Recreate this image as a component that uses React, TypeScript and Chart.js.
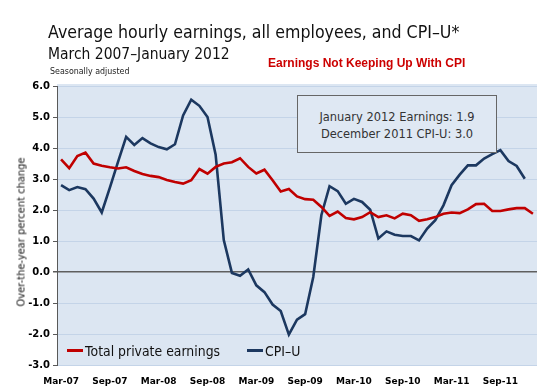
import React, { useEffect, useRef } from 'react';
import { Chart, registerables } from 'chart.js';

Chart.register(...registerables);

const months = [
  'Mar-07', 'Apr-07', 'May-07', 'Jun-07', 'Jul-07', 'Aug-07', 'Sep-07', 'Oct-07', 'Nov-07', 'Dec-07',
  'Jan-08', 'Feb-08', 'Mar-08', 'Apr-08', 'May-08', 'Jun-08', 'Jul-08', 'Aug-08', 'Sep-08', 'Oct-08', 'Nov-08', 'Dec-08',
  'Jan-09', 'Feb-09', 'Mar-09', 'Apr-09', 'May-09', 'Jun-09', 'Jul-09', 'Aug-09', 'Sep-09', 'Oct-09', 'Nov-09', 'Dec-09',
  'Jan-10', 'Feb-10', 'Mar-10', 'Apr-10', 'May-10', 'Jun-10', 'Jul-10', 'Aug-10', 'Sep-10', 'Oct-10', 'Nov-10', 'Dec-10',
  'Jan-11', 'Feb-11', 'Mar-11', 'Apr-11', 'May-11', 'Jun-11', 'Jul-11', 'Aug-11', 'Sep-11', 'Oct-11', 'Nov-11', 'Dec-11',
  'Jan-12',
];

const earnings = [
  3.63, 3.35, 3.74, 3.85, 3.5, 3.43, 3.38, 3.34, 3.38, 3.26,
  3.16, 3.1, 3.06, 2.97, 2.9, 2.85, 2.96, 3.32, 3.17, 3.39, 3.5, 3.54,
  3.67, 3.39, 3.18, 3.3, 2.96, 2.6, 2.68, 2.44, 2.35, 2.33, 2.1, 1.81,
  1.95, 1.74, 1.7, 1.77, 1.93, 1.77, 1.83, 1.73, 1.88, 1.83, 1.65, 1.7,
  1.77, 1.88, 1.92, 1.9, 2.02, 2.19, 2.2, 1.97, 1.97, 2.02, 2.06, 2.06,
  1.88,
];

const cpiU = [
  2.8, 2.64, 2.74, 2.67, 2.37, 1.92, 2.72, 3.55, 4.36, 4.1,
  4.32, 4.15, 4.03, 3.96, 4.12, 5.05, 5.56, 5.36, 5.0, 3.78, 1.03, -0.03,
  -0.12, 0.08, -0.43, -0.65, -1.05, -1.26, -2.02, -1.54, -1.36, -0.16, 1.84, 2.77,
  2.61, 2.2, 2.36, 2.26, 2.01, 1.08, 1.31, 1.2, 1.16, 1.16, 1.02, 1.4,
  1.67, 2.15, 2.8, 3.14, 3.44, 3.44, 3.66, 3.8, 3.93, 3.58, 3.42, 3.01,
  null,
];

const yMin = -3;
const yMax = 6;
const yStep = 1;

const plotBackground = {
  id: 'plotBackground',
  beforeDraw(chart: any) {
    const { ctx, chartArea } = chart;
    ctx.save();
    ctx.fillStyle = '#dce6f2';
    ctx.fillRect(chartArea.left, chartArea.top - 2, chartArea.right - chartArea.left, chartArea.bottom - chartArea.top + 2);
    ctx.restore();
  },
};

const tahoma: React.CSSProperties = {
  fontFamily: '"DejaVu Sans", sans-serif',
  whiteSpace: 'nowrap',
  lineHeight: 1,
  position: 'absolute',
  transformOrigin: 'left top',
};

export default function App() {
  const canvasRef = useRef<HTMLCanvasElement | null>(null);

  useEffect(() => {
    if (!canvasRef.current) return;
    const chart = new Chart(canvasRef.current, {
      type: 'line',
      data: {
        labels: months,
        datasets: [
          {
            label: 'Total private earnings',
            data: earnings,
            borderColor: '#c00000',
            backgroundColor: '#c00000',
            borderWidth: 2.6,
            pointRadius: 0,
            tension: 0,
          },
          {
            label: 'CPI–U',
            data: cpiU,
            borderColor: '#1c3860',
            backgroundColor: '#1c3860',
            borderWidth: 2.6,
            pointRadius: 0,
            tension: 0,
            spanGaps: false,
          },
        ],
      },
      options: {
        animation: false,
        responsive: false,
        devicePixelRatio: 1,
        layout: { padding: { top: 86, right: 8, left: 0, bottom: 0 } },
        plugins: {
          legend: { display: false },
          tooltip: { enabled: false },
          title: { display: false },
        },
        scales: {
          x: {
            type: 'category',
            offset: true,
            grid: { display: false, drawTicks: false, tickLength: 0 },
            border: { display: false },
            ticks: {
              autoSkip: false,
              maxRotation: 0,
              minRotation: 0,
              padding: 11,
              color: '#000',
              font: { family: '"DejaVu Sans", sans-serif', size: 9, weight: 'bold' },
              callback: (_v: any, i: number) => (i % 6 === 0 ? months[i] : ''),
            },
            afterFit: (s: any) => {
              s.height = 27;
            },
          },
          y: {
            min: yMin,
            max: yMax,
            ticks: {
              stepSize: yStep,
              padding: 3,
              color: '#000',
              font: { family: '"DejaVu Sans", sans-serif', size: 10, weight: 'bold' },
              callback: (v: any) => Number(v).toFixed(1),
            },
            grid: {
              color: (c: any) => (c.tick && c.tick.value === 0 ? '#5f5f5f' : '#c4d4e8'),
              lineWidth: (c: any) => (c.tick && c.tick.value === 0 ? 1.5 : 1),
              tickColor: '#595959',
              tickLength: 4,
              drawTicks: true,
            },
            border: { display: true, color: '#595959', width: 1 },
            afterFit: (s: any) => {
              s.width = 57;
            },
          },
        },
      },
      plugins: [plotBackground],
    } as any);
    return () => chart.destroy();
  }, []);

  return (
    <div style={{ position: 'fixed', left: 0, top: 0, width: 545, height: 392, background: '#fff', overflow: 'hidden' }}>
      <canvas ref={canvasRef} width={545} height={392} style={{ position: 'absolute', left: 0, top: 0, width: 545, height: 392 }} />

      <div style={{ ...tahoma, left: 48, top: 23, fontSize: 18, color: '#111', transform: 'scaleX(0.88)' }}>
        Average hourly earnings, all employees, and CPI–U*
      </div>
      <div style={{ ...tahoma, left: 48, top: 45.8, fontSize: 15.8, color: '#111', transform: 'scaleX(0.88)' }}>
        March 2007–January 2012
      </div>
      <div style={{ ...tahoma, left: 50, top: 66.6, fontSize: 9, color: '#222', transform: 'scaleX(0.88)' }}>
        Seasonally adjusted
      </div>
      <div
        style={{
          position: 'absolute',
          left: 268,
          top: 56.5,
          fontFamily: '"Liberation Sans", Arial, sans-serif',
          fontWeight: 'bold',
          fontSize: 12,
          lineHeight: 1,
          color: '#cc0000',
          whiteSpace: 'nowrap',
        }}
      >
        Earnings Not Keeping Up With CPI
      </div>

      <div
        style={{
          ...tahoma,
          left: 20.5,
          top: 231.5,
          fontSize: 11,
          color: '#111',
          transformOrigin: 'center',
          transform: 'translate(-50%, -50%) rotate(-90deg) scaleX(0.9)',
        }}
      >
        Over-the-year percent change
      </div>

      <div
        style={{
          position: 'absolute',
          left: 297,
          top: 95,
          width: 198,
          height: 56,
          border: '1px solid #666',
          background: '#dfe8f3',
        }}
      />
      <div style={{ position: 'absolute', left: 397, top: 107.7, lineHeight: '17px' }}>
        <div style={{ fontFamily: '"DejaVu Sans", sans-serif', fontSize: 13, color: '#333', whiteSpace: 'nowrap', transform: 'translateX(-50%) scaleX(0.88)', transformOrigin: 'center', textAlign: 'center' }}>
          <div>January 2012 Earnings: 1.9</div>
          <div>December 2011 CPI-U: 3.0</div>
        </div>
      </div>

      <div style={{ position: 'absolute', left: 67, top: 349, width: 16, height: 3, background: '#c00000' }} />
      <div style={{ ...tahoma, left: 85, top: 343.7, fontSize: 14.5, color: '#111', transform: 'scaleX(0.86)' }}>
        Total private earnings
      </div>
      <div style={{ position: 'absolute', left: 247, top: 349, width: 16, height: 3, background: '#1c3860' }} />
      <div style={{ ...tahoma, left: 265, top: 343.7, fontSize: 14.5, color: '#111', transform: 'scaleX(0.86)' }}>
        CPI–U
      </div>
    </div>
  );
}
